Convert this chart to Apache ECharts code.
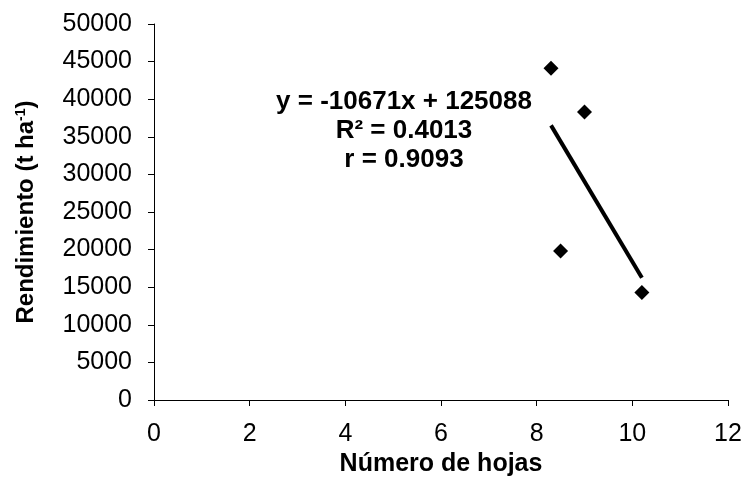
<!DOCTYPE html>
<html>
<head>
<meta charset="utf-8">
<script src="https://cdn.jsdelivr.net/npm/echarts@6/dist/echarts.min.js"></script>
<style>
  html, body { margin: 0; padding: 0; background: #fff; }
  #chart { width: 747px; height: 490px; }
</style>
</head>
<body>
<div id="chart"></div>
<script>
// Leaf number vs. yield observations
const hojas = [8.3, 9.0, 8.5, 10.2];
const rendimiento = [44100, 38300, 19800, 14300];

// Linear fit reported for the data
const pendiente = -10671;
const intercepto = 125088;
const ecuacionTxt = ['y = -10671x + 125088', 'R\u00B2 = 0.4013', 'r = 0.9093'];

// Axis settings
const xTicks = { min: 0, max: 12, step: 2 };
const yTicks = { min: 0, max: 50000, step: 5000 };

const puntos = hojas.map((x, i) => [x, rendimiento[i]]);
const xMin = Math.min(...hojas), xMax = Math.max(...hojas);
const tendencia = [xMin, xMax].map(x => [x, pendiente * x + intercepto]);

const FONT = '"Liberation Sans", Arial, sans-serif';

const chart = echarts.init(document.getElementById('chart'), null, { renderer: 'canvas' });
chart.setOption({
  animation: false,
  backgroundColor: '#ffffff',
  grid: { left: 154, right: 19, top: 24, bottom: 90 },
  xAxis: {
    type: 'value',
    min: xTicks.min, max: xTicks.max, interval: xTicks.step,
    name: 'Número de hojas',
    nameLocation: 'middle',
    nameGap: 52,
    nameTextStyle: { fontFamily: FONT, fontWeight: 'bold', fontSize: 25, color: '#000' },
    axisLine: { show: true, lineStyle: { color: '#000', width: 1 } },
    axisTick: { show: true, inside: false, length: 6, lineStyle: { color: '#000' } },
    axisLabel: { fontFamily: FONT, fontSize: 25, color: '#000', margin: 22 },
    splitLine: { show: false }
  },
  yAxis: {
    type: 'value',
    min: yTicks.min, max: yTicks.max, interval: yTicks.step,
    name: '{a|Rendimiento (t ha}{s|-1}{a|)}',
    nameLocation: 'middle',
    nameGap: 116,
    nameRotate: 90,
    nameTextStyle: {
      rich: {
        a: { fontFamily: FONT, fontWeight: 'bold', fontSize: 24, color: '#000' },
        s: { fontFamily: FONT, fontWeight: 'bold', fontSize: 14, color: '#000', verticalAlign: 'top', padding: [0, 0, 10, 0] }
      }
    },
    axisLine: { show: true, lineStyle: { color: '#000', width: 1 } },
    axisTick: { show: true, inside: false, length: 6, lineStyle: { color: '#000' } },
    axisLabel: { fontFamily: FONT, fontSize: 25, color: '#000', margin: 22, formatter: v => String(v) },
    splitLine: { show: false }
  },
  series: [
    {
      type: 'line',
      data: tendencia,
      symbol: 'none',
      lineStyle: { color: '#000', width: 4 },
      z: 2
    },
    {
      type: 'scatter',
      data: puntos,
      symbol: 'diamond',
      symbolSize: [15, 15],
      itemStyle: { color: '#000', opacity: 1 },
      z: 3
    }
  ],
  graphic: [
    {
      type: 'text',
      x: 404,
      y: 87,
      style: {
        text: ecuacionTxt.join('\n'),
        align: 'center',
        verticalAlign: 'top',
        fontFamily: FONT,
        fontWeight: 'bold',
        fontSize: 26,
        lineHeight: 29,
        fill: '#000'
      }
    }
  ]
});
</script>
</body>
</html>
